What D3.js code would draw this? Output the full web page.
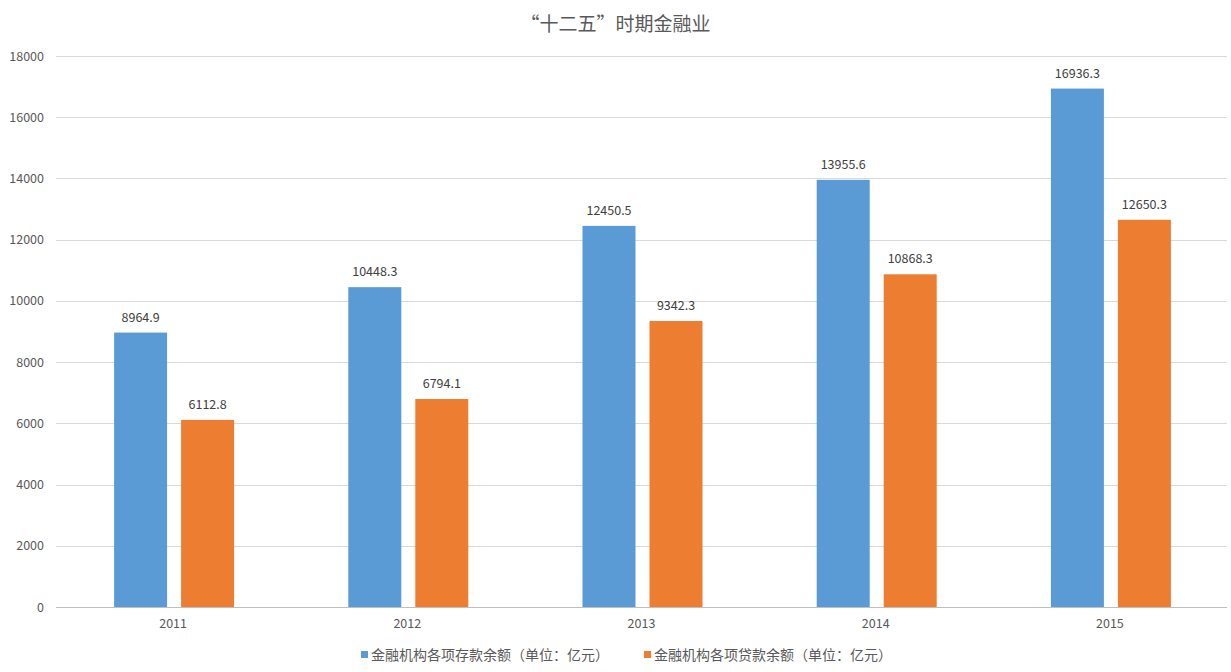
<!DOCTYPE html>
<html><head><meta charset="utf-8">
<script src="https://cdn.jsdelivr.net/npm/d3@7"></script>
<style>body{margin:0;background:#fff}svg{display:block;font-family:"Noto Sans CJK SC","Noto Sans",sans-serif}</style>
</head><body>
<svg id="c" width="1231" height="672"></svg>
<script>
const title = "“十二五”时期金融业";
const categories = ["2011","2012","2013","2014","2015"];
const seriesNames = ["金融机构各项存款余额（单位：亿元）","金融机构各项贷款余额（单位：亿元）"];
const deposits = [8964.9,10448.3,12450.5,13955.6,16936.3];
const loans = [6112.8,6794.1,9342.3,10868.3,12650.3];
const yTicks = [0,2000,4000,6000,8000,10000,12000,14000,16000,18000];
const colors = ["#5b9bd5","#ed7d31"];

(function(){
const svg = d3.select("#c");
const pL=56, pR=1227, pT=56, pB=607;
const x = d3.scaleBand().domain(categories).range([pL,pR]);
const y = d3.scaleLinear().domain([0,18000]).range([pB,pT]);
const barW = 53;
const offs = [-59, 8];
const series=[deposits,loans];

svg.append("text").attr("x",615.5).attr("y",31).attr("text-anchor","middle")
  .attr("font-size",19).attr("fill","#595959").text(title);

const g = svg.append("g");
g.selectAll("line.grid").data(yTicks).join("line")
  .attr("x1",pL).attr("x2",pR).attr("y1",d=>Math.round(y(d))+0.5).attr("y2",d=>Math.round(y(d))+0.5)
  .attr("stroke",d=>d===0?"#bfbfbf":"#d9d9d9").attr("stroke-width",1);
g.selectAll("text.yt").data(yTicks).join("text")
  .attr("x",44).attr("y",d=>y(d)+4.5).attr("text-anchor","end")
  .attr("font-size",12.5).attr("fill","#595959").text(d=>d);

series.forEach((vals,si)=>{
  const off = offs[si];
  g.selectAll("rect.s"+si).data(vals).join("rect")
    .attr("x",(d,i)=>x(categories[i])+x.bandwidth()/2+off)
    .attr("y",d=>y(d)).attr("width",barW).attr("height",d=>pB-y(d))
    .attr("fill",colors[si]);
  g.selectAll("text.l"+si).data(vals).join("text")
    .attr("x",(d,i)=>x(categories[i])+x.bandwidth()/2+off+barW/2)
    .attr("y",d=>y(d)-11).attr("text-anchor","middle")
    .attr("font-size",12.5).attr("fill","#404040").text(d=>d.toFixed(1));
});

g.selectAll("text.xt").data(categories).join("text")
  .attr("x",d=>x(d)+x.bandwidth()/2).attr("y",628).attr("text-anchor","middle")
  .attr("font-size",12.5).attr("fill","#595959").text(d=>d);

const legX=[361,644];
seriesNames.forEach((n,i)=>{
  svg.append("rect").attr("x",legX[i]).attr("y",651).attr("width",7).attr("height",7).attr("fill",colors[i]);
  svg.append("text").attr("x",legX[i]+10).attr("y",659.5).attr("font-size",14).attr("fill","#595959").text(n);
});
})();
</script>
</body></html>
